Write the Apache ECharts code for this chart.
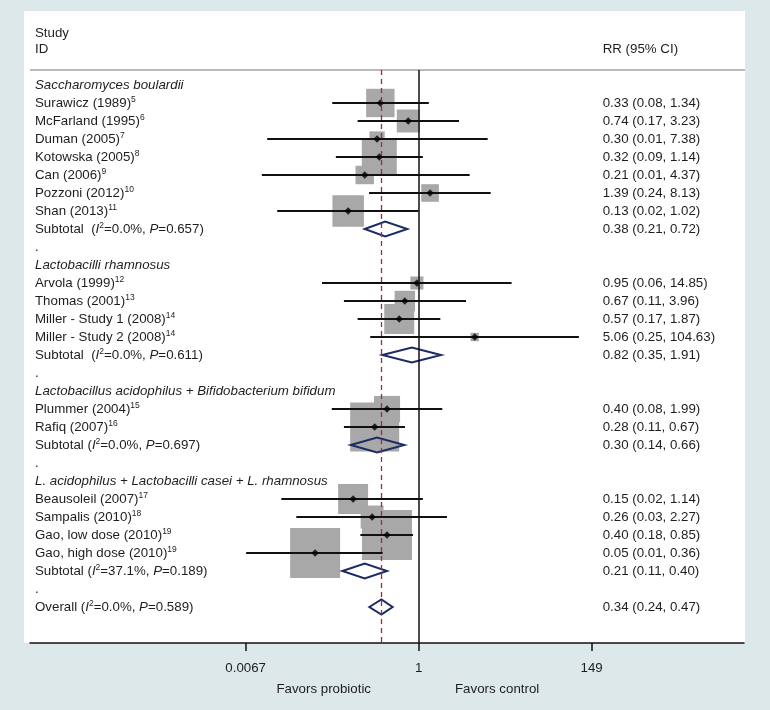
<!DOCTYPE html>
<html><head><meta charset="utf-8">
<script src="https://cdn.jsdelivr.net/npm/echarts@6/dist/echarts.min.js"></script>
<style>html,body{margin:0;padding:0;background:#dce8ea}#c{width:770px;height:710px}</style>
</head><body><div id="c"></div>
<script>
// ---------- data ----------
const groupNames = [
  'Saccharomyces boulardii',
  'Lactobacilli rhamnosus',
  'Lactobacillus acidophilus + Bifidobacterium bifidum',
  'L. acidophilus + Lactobacilli casei + L. rhamnosus'
];
const studyNames = [
  'Surawicz (1989)', 'McFarland (1995)', 'Duman (2005)', 'Kotowska (2005)', 'Can (2006)', 'Pozzoni (2012)', 'Shan (2013)',
  'Arvola (1999)', 'Thomas (2001)', 'Miller - Study 1 (2008)', 'Miller - Study 2 (2008)',
  'Plummer (2004)', 'Rafiq (2007)',
  'Beausoleil (2007)', 'Sampalis (2010)', 'Gao, low dose (2010)', 'Gao, high dose (2010)'
];
const studyRefs = ['5','6','7','8','9','10','11','12','13','14','14','15','16','17','18','19','19'];
const studyGroup = [0,0,0,0,0,0,0,1,1,1,1,2,2,3,3,3,3];
const studyRR = [0.33, 0.74, 0.30, 0.32, 0.21, 1.39, 0.13, 0.95, 0.67, 0.57, 5.06, 0.40, 0.28, 0.15, 0.26, 0.40, 0.05];
const studyLo = [0.082, 0.171, 0.0125, 0.091, 0.0107, 0.238, 0.0167, 0.061, 0.115, 0.171, 0.246, 0.081, 0.115, 0.0188, 0.029, 0.185, 0.0068];
const studyHi = [1.34, 3.21, 7.36, 1.13, 4.37, 8.03, 1.0, 14.7, 3.93, 1.87, 103, 1.98, 0.673, 1.13, 2.27, 0.848, 0.353];
const studyWeight = [5.2, 3.4, 1.5, 7.9, 2.2, 2.0, 6.4, 1.1, 2.7, 5.8, 0.45, 4.4, 15.5, 5.8, 3.4, 16.1, 16.1];
const studyCIText = [
  '0.33 (0.08, 1.34)', '0.74 (0.17, 3.23)', '0.30 (0.01, 7.38)', '0.32 (0.09, 1.14)', '0.21 (0.01, 4.37)', '1.39 (0.24, 8.13)', '0.13 (0.02, 1.02)',
  '0.95 (0.06, 14.85)', '0.67 (0.11, 3.96)', '0.57 (0.17, 1.87)', '5.06 (0.25, 104.63)',
  '0.40 (0.08, 1.99)', '0.28 (0.11, 0.67)',
  '0.15 (0.02, 1.14)', '0.26 (0.03, 2.27)', '0.40 (0.18, 0.85)', '0.05 (0.01, 0.36)'
];
const subRR = [0.38, 0.82, 0.30, 0.21];
const subLo = [0.21, 0.35, 0.14, 0.11];
const subHi = [0.72, 1.91, 0.66, 0.40];
const subI2 = ['0.0', '0.0', '0.0', '37.1'];
const subP = ['0.657', '0.611', '0.697', '0.189'];
const subSep = ['  ', '  ', ' ', ' '];
const overallRR = 0.34, overallLo = 0.24, overallHi = 0.47, overallI2 = '0.0', overallP = '0.589';
const tickValues = [0.0067, 1, 149];
const tickLabels = ['0.0067', '1', '149'];

// ---------- build ----------
const lg = v => Math.log10(v);
const F = "'Liberation Sans', Arial, sans-serif";
const TXT = '#1e1e1e';
const FS = 13.3;
const rich = {
  n: {fontSize: FS, fontFamily: F, fill: TXT, lineHeight: 14},
  i: {fontSize: FS, fontFamily: F, fill: TXT, lineHeight: 14, fontStyle: 'italic'},
  s: {fontSize: 8.5, fontFamily: F, fill: TXT, padding: [0, 0, 7, 0]}
};
const textRows = [], boxData = [], ciData = [], ptData = [], diaData = [];
let r = 0;
const ciStr = (a, b, c) => a.toFixed(2) + ' (' + b.toFixed(2) + ', ' + c.toFixed(2) + ')';
groupNames.forEach((g, gi) => {
  textRows.push([r, '{i|' + g + '}', '']); r++;
  studyNames.forEach((s, si) => {
    if (studyGroup[si] !== gi) return;
    textRows.push([r, '{n|' + s + '}{s|' + studyRefs[si] + '}', studyCIText[si]]);
    boxData.push([lg(studyRR[si]), r, studyWeight[si]]);
    ciData.push([lg(studyLo[si]), r, lg(studyHi[si])]);
    ptData.push([lg(studyRR[si]), r]);
    r++;
  });
  textRows.push([r, '{n|Subtotal' + subSep[gi] + '(}{i|I}{s|2}{n|=' + subI2[gi] + '%, }{i|P}{n|=' + subP[gi] + ')}', ciStr(subRR[gi], subLo[gi], subHi[gi])]);
  diaData.push([lg(subRR[gi]), r, lg(subLo[gi]), lg(subHi[gi])]);
  r++;
  textRows.push([r, '{n|.}', '']); r++;
});
textRows.push([r, '{n|Overall (}{i|I}{s|2}{n|=' + overallI2 + '%, }{i|P}{n|=' + overallP + ')}', ciStr(overallRR, overallLo, overallHi)]);
diaData.push([lg(overallRR), r, lg(overallLo), lg(overallHi)]);

const BOX_K = 12.45;
const chart = echarts.init(document.getElementById('c'), null, {renderer: 'canvas'});
chart.setOption({
  backgroundColor: '#dce8ea',
  animation: false,
  grid: {left: 30, right: 26, top: 70, bottom: 67},
  xAxis: {
    type: 'value', min: -4.883, max: 4.087,
    splitLine: {show: false},
    axisLine: {show: true, onZero: false, lineStyle: {color: '#111', width: 1.5}},
    axisTick: {show: true, customValues: tickValues.map(lg), length: 8, lineStyle: {color: '#111', width: 1.5}},
    axisLabel: {
      show: true, customValues: tickValues.map(lg), margin: 19,
      fontSize: FS, fontFamily: F, color: TXT,
      formatter: v => {
        let best = 0;
        tickValues.forEach((t, i) => { if (Math.abs(lg(t) - v) < Math.abs(lg(tickValues[best]) - v)) best = i; });
        return tickLabels[best];
      }
    }
  },
  yAxis: {type: 'value', inverse: true, min: -0.833, max: 31.0, show: false},
  graphic: [
    {type: 'rect', z: -10, shape: {x: 24, y: 11, width: 721, height: 632}, style: {fill: '#ffffff'}},
    {type: 'line', z: 1, shape: {x1: 30, y1: 70, x2: 745, y2: 70}, style: {stroke: '#a3a3a3', lineWidth: 1.3}},
    {type: 'text', x: 35, y: 33, style: {text: 'Study', fontSize: FS, fontFamily: F, fill: TXT, verticalAlign: 'middle'}},
    {type: 'text', x: 35, y: 49, style: {text: 'ID', fontSize: FS, fontFamily: F, fill: TXT, verticalAlign: 'middle'}},
    {type: 'text', x: 602.7, y: 49, style: {text: 'RR (95% CI)', fontSize: FS, fontFamily: F, fill: TXT, verticalAlign: 'middle'}},
    {type: 'text', x: 371, y: 689, style: {text: 'Favors probiotic', fontSize: FS, fontFamily: F, fill: TXT, align: 'right', verticalAlign: 'middle'}},
    {type: 'text', x: 455, y: 689, style: {text: 'Favors control', fontSize: FS, fontFamily: F, fill: TXT, align: 'left', verticalAlign: 'middle'}}
  ],
  series: [
    {
      type: 'scatter', data: [], z: 1, silent: true,
      markLine: {
        silent: true, symbol: 'none', label: {show: false},
        data: [
          {xAxis: 0, lineStyle: {color: '#111', width: 1.5, type: 'solid'}},
          {xAxis: lg(overallRR), lineStyle: {color: '#a2283f', width: 1.3, type: [5, 4]}}
        ]
      }
    },
    {
      type: 'custom', z: 2, silent: true, data: boxData, clip: false,
      renderItem: (p, api) => {
        const c = api.coord([api.value(0), api.value(1)]);
        const s = BOX_K * Math.sqrt(api.value(2));
        return {type: 'rect', shape: {x: c[0] - s / 2, y: c[1] - s / 2, width: s, height: s}, style: {fill: '#a8a8a8'}};
      }
    },
    {
      type: 'custom', z: 3, silent: true, data: ciData, clip: false,
      renderItem: (p, api) => {
        const a = api.coord([api.value(0), api.value(1)]);
        const b = api.coord([api.value(2), api.value(1)]);
        return {type: 'line', shape: {x1: a[0], y1: a[1], x2: b[0], y2: b[1]}, style: {stroke: '#111', lineWidth: 2}};
      }
    },
    {
      type: 'scatter', z: 4, silent: true, data: ptData, symbol: 'diamond', symbolSize: 7.5,
      itemStyle: {color: '#000'}
    },
    {
      type: 'custom', z: 4, silent: true, data: diaData, clip: false,
      renderItem: (p, api) => {
        const e = api.coord([api.value(0), api.value(1)]);
        const l = api.coord([api.value(2), api.value(1)]);
        const h = api.coord([api.value(3), api.value(1)]);
        const hh = 7.5;
        return {type: 'polygon', shape: {points: [[l[0], e[1]], [e[0], e[1] - hh], [h[0], e[1]], [e[0], e[1] + hh]]},
          style: {fill: 'none', stroke: '#1c2b64', lineWidth: 2}};
      }
    },
    {
      type: 'custom', z: 5, silent: true, clip: false,
      data: textRows.map(t => [0, t[0]]),
      renderItem: (p, api) => {
        const t = textRows[p.dataIndex];
        const y = api.coord([0, api.value(1)])[1];
        const children = [{type: 'text', x: 35, y: y, style: {text: t[1], rich: rich, fontSize: FS, fontFamily: F, fill: TXT, align: 'left', verticalAlign: 'middle'}}];
        if (t[2]) children.push({type: 'text', x: 602.7, y: y, style: {text: t[2], fontSize: FS, fontFamily: F, fill: TXT, align: 'left', verticalAlign: 'middle'}});
        return {type: 'group', children: children};
      }
    }
  ]
});
</script>
</body></html>
